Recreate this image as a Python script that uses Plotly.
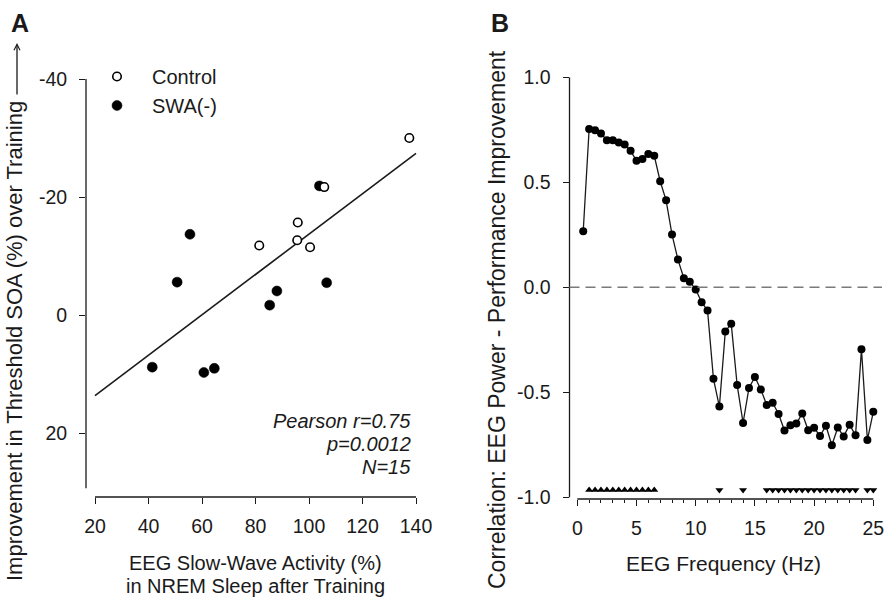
import numpy as np
import plotly.graph_objects as go

# ---------------- Data ----------------
# Panel A: SWA vs improvement in threshold SOA
control_x = [137.5, 105.7, 95.8, 81.4, 95.6, 100.4]
control_y = [-30.0, -21.7, -15.7, -11.8, -12.7, -11.5]
swa_x = [103.9, 55.5, 50.7, 88.0, 85.3, 106.6, 41.4, 60.7, 64.6]
swa_y = [-21.9, -13.7, -5.6, -4.1, -1.7, -5.5, 8.8, 9.7, 9.0]
fit_x_span = [20, 140]
stats_lines = ["Pearson r=0.75", "p=0.0012", "N=15"]

a_xticks = [20, 40, 60, 80, 100, 120, 140]
a_yticks = [-40, -20, 0, 20]
a_yticklabels = ["-40", "-20", "0", "20"]

# Panel B: correlation per frequency bin
freq_hz = [0.5, 1.0, 1.5, 2.0, 2.5, 3.0, 3.5, 4.0, 4.5, 5.0,
           5.5, 6.0, 6.5, 7.0, 7.5, 8.0, 8.5, 9.0, 9.5, 10.0,
           10.5, 11.0, 11.5, 12.0, 12.5, 13.0, 13.5, 14.0, 14.5, 15.0,
           15.5, 16.0, 16.5, 17.0, 17.5, 18.0, 18.5, 19.0, 19.5, 20.0,
           20.5, 21.0, 21.5, 22.0, 22.5, 23.0, 23.5, 24.0, 24.5, 25.0]
corr_r = [0.267, 0.754, 0.748, 0.732, 0.700, 0.700, 0.690, 0.680, 0.650, 0.603,
          0.611, 0.635, 0.626, 0.505, 0.414, 0.251, 0.132, 0.043, 0.027, -0.010,
          -0.071, -0.110, -0.436, -0.568, -0.210, -0.173, -0.465, -0.646, -0.479, -0.427,
          -0.487, -0.560, -0.550, -0.603, -0.682, -0.657, -0.649, -0.601, -0.681, -0.669,
          -0.708, -0.659, -0.752, -0.668, -0.710, -0.654, -0.705, -0.295, -0.727, -0.593]
sig_pos_hz = [1.0, 1.5, 2.0, 2.5, 3.0, 3.5, 4.0, 4.5, 5.0, 5.5, 6.0, 6.5]
sig_neg_hz = [12.0, 14.0, 16.0, 16.5, 17.0, 17.5, 18.0, 18.5, 19.0, 19.5, 20.0,
              20.5, 21.0, 21.5, 22.0, 22.5, 23.0, 23.5, 24.5, 25.0]

b_xticks = [0, 5, 10, 15, 20, 25]
b_yticks = [-1.0, -0.5, 0.0, 0.5, 1.0]
b_yticklabels = ["-1.0", "-0.5", "0.0", "0.5", "1.0"]

# ---------------- Figure ----------------
W, H = 886, 600
FONT = "Liberation Sans, Arial, sans-serif"
INK = "#1a1a1a"
TICK_SIZE = 19.5

def px(x):
    return x / W

def py(y):
    return 1 - y / H

fig = go.Figure()

# regression line from all 15 points
all_x = np.array(control_x + swa_x)
all_y = np.array(control_y + swa_y)
slope, intercept = np.polyfit(all_x, all_y, 1)
fx = np.array(fit_x_span, dtype=float)
fig.add_trace(go.Scatter(x=fx, y=slope * fx + intercept, mode="lines",
                         line=dict(color=INK, width=1.6), showlegend=False,
                         xaxis="x", yaxis="y", hoverinfo="skip"))

fig.add_trace(go.Scatter(x=swa_x, y=swa_y, mode="markers", name="SWA(-)",
                         marker=dict(symbol="circle", size=10, color="black",
                                     line=dict(color="black", width=0.5)),
                         xaxis="x", yaxis="y", legendrank=2))
fig.add_trace(go.Scatter(x=control_x, y=control_y, mode="markers", name="Control",
                         marker=dict(symbol="circle", size=8.5, color="white",
                                     line=dict(color="black", width=1.6)),
                         xaxis="x", yaxis="y", legendrank=1))

# Panel B
fig.add_trace(go.Scatter(x=freq_hz, y=corr_r, mode="lines+markers",
                         line=dict(color=INK, width=1.3),
                         marker=dict(symbol="circle", size=8, color="black"),
                         showlegend=False, xaxis="x2", yaxis="y2", cliponaxis=False))
SIG_Y = -0.965
fig.add_trace(go.Scatter(x=sig_pos_hz, y=[SIG_Y] * len(sig_pos_hz), mode="markers",
                         marker=dict(symbol="triangle-up", size=7, color="black"),
                         showlegend=False, xaxis="x2", yaxis="y2", cliponaxis=False))
fig.add_trace(go.Scatter(x=sig_neg_hz, y=[SIG_Y] * len(sig_neg_hz), mode="markers",
                         marker=dict(symbol="triangle-down", size=7, color="black"),
                         showlegend=False, xaxis="x2", yaxis="y2", cliponaxis=False))

axis_common = dict(showgrid=False, zeroline=False, showline=False, automargin=False,
                   ticks="outside", ticklen=6, tickwidth=1.3, tickcolor=INK,
                   tickfont=dict(family=FONT, size=TICK_SIZE, color=INK))

# Panel A axes: 20 at 95px, 140 at 416px; -40 at 79px, 20 at 433px
a_left_px, a_right_px = 86, 420
a_top_px, a_bot_px = 79, 497
a_xscale = (416 - 95) / 120.0
a_yscale = (433.3 - 79) / 60.0
a_y0px = 79 + 40 * a_yscale
fig.update_layout(
    xaxis=dict(domain=[px(a_left_px), px(a_right_px)],
               range=[20 - (95 - a_left_px) / a_xscale, 20 + (a_right_px - 95) / a_xscale],
               tickvals=a_xticks, ticklabelstandoff=6, anchor="y", **axis_common),
    yaxis=dict(domain=[py(a_bot_px), py(a_top_px)],
               range=[(a_bot_px - a_y0px) / a_yscale, -40],
               tickvals=a_yticks, ticktext=a_yticklabels, ticklabelstandoff=8,
               anchor="x", **axis_common),
)

# Panel B axes: 0 Hz at 577.3, 25 Hz at 873.3; 1.0 at 77.3, -1.0 at 497.3
b_left_px, b_right_px = 569.5, 882
b_top_px, b_bot_px = 77.3, 499
b_xscale = (873.3 - 577.3) / 25.0
b_yscale = (497.3 - 77.3) / 2.0
fig.update_layout(
    xaxis2=dict(domain=[px(b_left_px), px(b_right_px)],
                range=[(b_left_px - 577.3) / b_xscale, (b_right_px - 577.3) / b_xscale],
                tickvals=b_xticks, ticklabelstandoff=6, anchor="y2",
                minor=dict(dtick=1, tick0=0, ticks="outside", ticklen=3,
                           tickwidth=1.1, tickcolor=INK),
                **axis_common),
    yaxis2=dict(domain=[py(b_bot_px), py(b_top_px)],
                range=[1.0 - (b_bot_px - b_top_px) / b_yscale, 1.0],
                tickvals=b_yticks, ticktext=b_yticklabels, ticklabelstandoff=8,
                anchor="x2", **axis_common),
)

line_style = dict(color=INK, width=1.3)
shapes = [
    # Panel A detached axis lines
    dict(type="line", xref="x domain", yref="y", x0=0, x1=0, y0=-40, y1=29.3, line=line_style),
    dict(type="line", xref="x", yref="y domain", x0=a_xticks[0], x1=a_xticks[-1], y0=0, y1=0, line=line_style),
    # Panel B axis lines
    dict(type="line", xref="x2 domain", yref="y2", x0=0, x1=0, y0=b_yticks[0], y1=b_yticks[-1], line=line_style),
    dict(type="line", xref="x2", yref="y2 domain", x0=b_xticks[0], x1=b_xticks[-1], y0=0, y1=0, line=line_style),
    # zero reference
    dict(type="line", xref="x2 domain", yref="y2", x0=0, x1=1, y0=0, y1=0,
         line=dict(color="#7a7a7a", width=1.5, dash="10px,6px")),
]

annotations = [
    dict(text="<b>A</b>", x=px(9), y=py(23), xref="paper", yref="paper",
         xanchor="left", yanchor="middle", showarrow=False,
         font=dict(family=FONT, size=25, color=INK)),
    dict(text="<b>B</b>", x=px(489), y=py(23), xref="paper", yref="paper",
         xanchor="left", yanchor="middle", showarrow=False,
         font=dict(family=FONT, size=25, color=INK)),
    dict(text="Improvement in Threshold SOA (%) over Training",
         x=px(14), y=py(341), xref="paper", yref="paper", textangle=-90,
         xanchor="center", yanchor="middle", showarrow=False,
         font=dict(family=FONT, size=22, color=INK)),
    # arrow continuing the y title upward
    dict(text="", x=px(17), y=py(43), ax=0, ay=53, axref="pixel", ayref="pixel",
         xref="paper", yref="paper", showarrow=True, arrowhead=5, arrowsize=0.9,
         arrowwidth=1.3, arrowcolor=INK),
    dict(text="Correlation: EEG Power - Performance Improvement",
         x=px(497), y=py(320), xref="paper", yref="paper", textangle=-90,
         xanchor="center", yanchor="middle", showarrow=False,
         font=dict(family=FONT, size=23, color=INK)),
    dict(text="EEG Slow-Wave Activity (%)", x=px(256), y=py(563), xref="paper", yref="paper",
         xanchor="center", yanchor="middle", showarrow=False,
         font=dict(family=FONT, size=20, color=INK)),
    dict(text="in NREM Sleep after Training", x=px(256), y=py(586), xref="paper", yref="paper",
         xanchor="center", yanchor="middle", showarrow=False,
         font=dict(family=FONT, size=20, color=INK)),
    dict(text="EEG Frequency (Hz)", x=px(723), y=py(563), xref="paper", yref="paper",
         xanchor="center", yanchor="middle", showarrow=False,
         font=dict(family=FONT, size=21, color=INK)),
]
for txt, yy in zip(stats_lines, [421, 444, 467]):
    annotations.append(dict(text="<i>%s</i>" % txt, x=px(413), y=py(yy),
                            xref="paper", yref="paper", xanchor="right", yanchor="middle",
                            showarrow=False, font=dict(family=FONT, size=20, color=INK)))

fig.update_layout(
    template="none",
    width=W, height=H,
    margin=dict(l=0, r=0, t=0, b=0, autoexpand=False),
    paper_bgcolor="white", plot_bgcolor="white",
    shapes=shapes, annotations=annotations,
    showlegend=True,
    legend=dict(x=px(82), y=py(57), xanchor="left", yanchor="top",
                bgcolor="rgba(0,0,0,0)", borderwidth=0,
                font=dict(family=FONT, size=20, color=INK),
                itemwidth=60, tracegroupgap=0, itemsizing="trace"),
    font=dict(family=FONT, color=INK),
)

fig.write_html("out.html", config={"displayModeBar": False},
               post_script="document.body.style.margin='0';document.body.style.padding='0';")
